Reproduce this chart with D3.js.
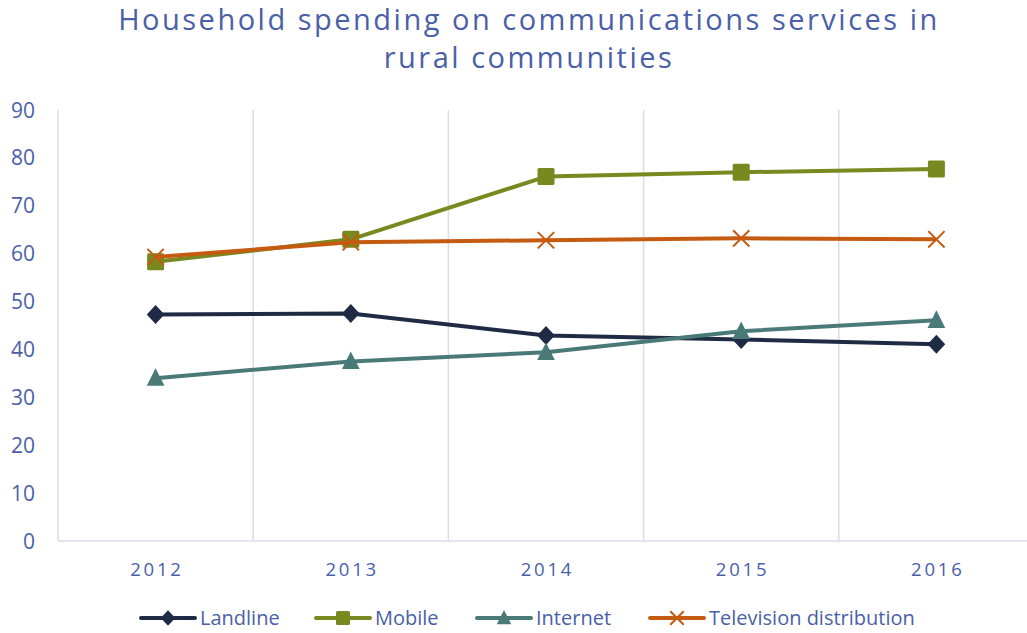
<!DOCTYPE html>
<html><head><meta charset="utf-8">
<script src="https://cdn.jsdelivr.net/npm/d3@7"></script>
<style>
body{margin:0;background:#fff;}
text{font-family:"Open Sans",sans-serif;}
</style></head>
<body><svg id="c" width="1027" height="633"></svg>
<script>
const years = ["2012","2013","2014","2015","2016"];
const landline = [47.3, 47.5, 42.9, 42.1, 41.1];
const mobile = [58.3, 63.0, 76.1, 77.0, 77.7];
const internet = [34.0, 37.5, 39.4, 43.8, 46.1];
const television = [59.3, 62.4, 62.8, 63.2, 63.0];
const yTicks = [0,10,20,30,40,50,60,70,80,90];
const seriesNames = ["Landline","Mobile","Internet","Television distribution"];
const colors = ["#1f2a44","#77891f","#497a78","#c55a11"];
const markers = ["diamond","square","triangle","x"];
const series = [landline, mobile, internet, television];

const svg = d3.select("#c");
const pLeft = 58, pRight = 1034, pTop = 110, pBottom = 541;
const x = d3.scaleBand().domain(years).range([pLeft, pRight]);
const y = d3.scaleLinear().domain([0,90]).range([pBottom, pTop]);
const txt = "#4a5fa8", grid = "#d9dcec";

// title
const title = svg.append("text").attr("text-anchor","middle").attr("fill",txt)
  .style("font-size","29px").style("letter-spacing","2.5px");
title.append("tspan").attr("x",529).attr("y",30).text("Household spending on communications services in");
title.append("tspan").attr("x",529).attr("y",68).text("rural communities");

// gridlines between categories
svg.append("g").selectAll("line").data(years.slice(1)).join("line")
  .attr("x1",d=>x(d)).attr("x2",d=>x(d)).attr("y1",pTop).attr("y2",pBottom)
  .attr("stroke",grid).attr("stroke-width",1.5);
// axes lines
svg.append("line").attr("x1",pLeft).attr("x2",pLeft).attr("y1",pTop).attr("y2",pBottom).attr("stroke",grid).attr("stroke-width",1.5);
svg.append("line").attr("x1",pLeft).attr("x2",1027).attr("y1",pBottom).attr("y2",pBottom).attr("stroke",grid).attr("stroke-width",1.5);

// y labels
svg.append("g").selectAll("text").data(yTicks).join("text")
  .attr("x",35).attr("y",d=>y(d)).attr("dy","0.36em").attr("text-anchor","end")
  .attr("fill",txt).style("font-size","21px").text(d=>d);
// x labels
svg.append("g").selectAll("text").data(years).join("text")
  .attr("x",d=>x(d)+x.bandwidth()/2+1.4).attr("y",576).attr("text-anchor","middle")
  .attr("fill",txt).style("font-size","18.5px").style("letter-spacing","2.8px").text(d=>d);

function drawMarker(g, type, cx, cy, color, s){
  if(type==="diamond"){
    g.append("path").attr("d",`M${cx},${cy-s*0.56}L${cx+s*0.52},${cy}L${cx},${cy+s*0.56}L${cx-s*0.52},${cy}Z`).attr("fill",color);
  } else if(type==="square"){
    g.append("rect").attr("x",cx-s/2).attr("y",cy-s/2).attr("width",s).attr("height",s).attr("rx",1.5).attr("fill",color);
  } else if(type==="triangle"){
    g.append("path").attr("d",`M${cx},${cy-s*0.58}L${cx+s*0.52},${cy+s*0.45}L${cx-s*0.52},${cy+s*0.45}Z`).attr("fill",color);
  } else {
    const h=s*0.48;
    g.append("path").attr("d",`M${cx-h},${cy-h}L${cx+h},${cy+h}M${cx+h},${cy-h}L${cx-h},${cy+h}`).attr("stroke",color).attr("stroke-width",2).attr("fill","none");
  }
}

const line = d3.line().x((d,i)=>x(years[i])+x.bandwidth()/2).y(d=>y(d));
const order = [0,2,1,3];
order.forEach(si=>{
  const g = svg.append("g");
  g.append("path").attr("d",line(series[si])).attr("fill","none").attr("stroke",colors[si]).attr("stroke-width",4).attr("stroke-linejoin","round");
  series[si].forEach((v,i)=>drawMarker(g, markers[si], x(years[i])+x.bandwidth()/2, y(v), colors[si], 17));
});

// legend
const legX = [141, 316, 477, 650];
const lg = svg.append("g");
seriesNames.forEach((n,i)=>{
  const lx = legX[i], ly = 618;
  lg.append("line").attr("x1",lx).attr("x2",lx+54).attr("y1",ly).attr("y2",ly).attr("stroke",colors[i]).attr("stroke-width",4).attr("stroke-linecap","round");
  drawMarker(lg, markers[i], lx+27, ly, colors[i], 14);
  lg.append("text").attr("x",lx+59).attr("y",ly).attr("dy","0.35em").attr("fill",txt).style("font-size","20px").text(n);
});
</script></body></html>
